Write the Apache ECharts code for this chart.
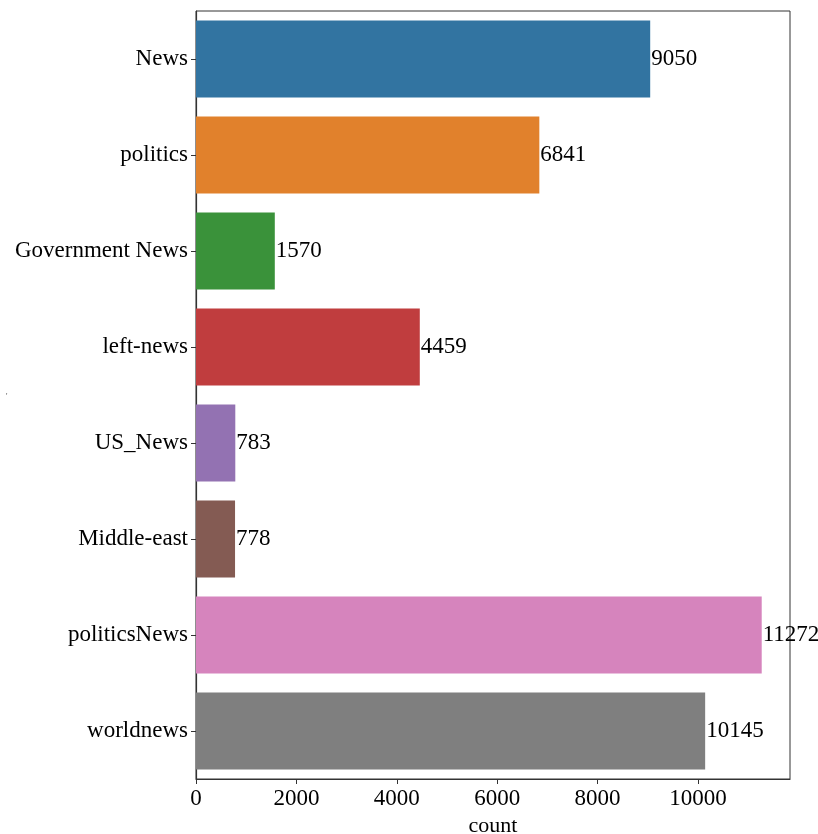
<!DOCTYPE html>
<html>
<head>
<meta charset="utf-8">
<script src="https://cdn.jsdelivr.net/npm/echarts@6/dist/echarts.min.js"></script>
<style>html,body{margin:0;padding:0;background:#fff}#c{width:818px;height:834px}</style>
</head>
<body>
<div id="c"></div>
<script>
const categories = ["News", "politics", "Government News", "left-news", "US_News", "Middle-east", "politicsNews", "worldnews"];
const counts = [9050, 6841, 1570, 4459, 783, 778, 11272, 10145];
const colors = ["#3274a1", "#e1812c", "#3a923a", "#c03d3e", "#9372b2", "#845b53", "#d684bd", "#7f7f7f"];
const xTicks = [0, 2000, 4000, 6000, 8000, 10000];

const FONT = "Liberation Serif";
const chart = echarts.init(document.getElementById('c'), null, {renderer: 'canvas'});
chart.setOption({
  animation: false,
  backgroundColor: '#fff',
  grid: {left: 196, top: 11, right: 28, bottom: 55, show: true, borderColor: '#333', borderWidth: 1,
         containLabel: false, outerBoundsMode: 'none'},
  xAxis: {
    type: 'value', min: 0, max: Math.max(...counts) * 1.05, interval: 2000,
    name: 'count', nameLocation: 'middle', nameGap: 36,
    nameTextStyle: {fontFamily: FONT, fontSize: 22, color: '#000'},
    axisLine: {show: true, lineStyle: {color: '#333', width: 1.2}},
    axisTick: {show: true, length: 5, lineStyle: {color: '#333'}},
    splitLine: {show: false},
    axisLabel: {fontFamily: FONT, fontSize: 23, color: '#000', margin: 8, showMaxLabel: false,
      formatter: v => xTicks.includes(v) ? String(v) : ''}
  },
  yAxis: {
    type: 'category', data: categories, inverse: true,
    axisLine: {show: true, lineStyle: {color: '#333', width: 1.2}},
    axisTick: {show: true, length: 5, alignWithLabel: true, lineStyle: {color: '#333'}},
    axisLabel: {fontFamily: FONT, fontSize: 23, color: '#000', margin: 8}
  },
  series: [{
    type: 'bar',
    barCategoryGap: '20%',
    data: counts.map((v, i) => ({value: v, itemStyle: {color: colors[i]}})),
    label: {show: true, position: 'right', distance: 1, fontFamily: FONT, fontSize: 23, color: '#000'}
  }],
  graphic: [{type: 'text', left: 6, top: 393, style: {text: "'", fontSize: 8, fill: '#555', fontFamily: FONT}}]
});
</script>
</body>
</html>
